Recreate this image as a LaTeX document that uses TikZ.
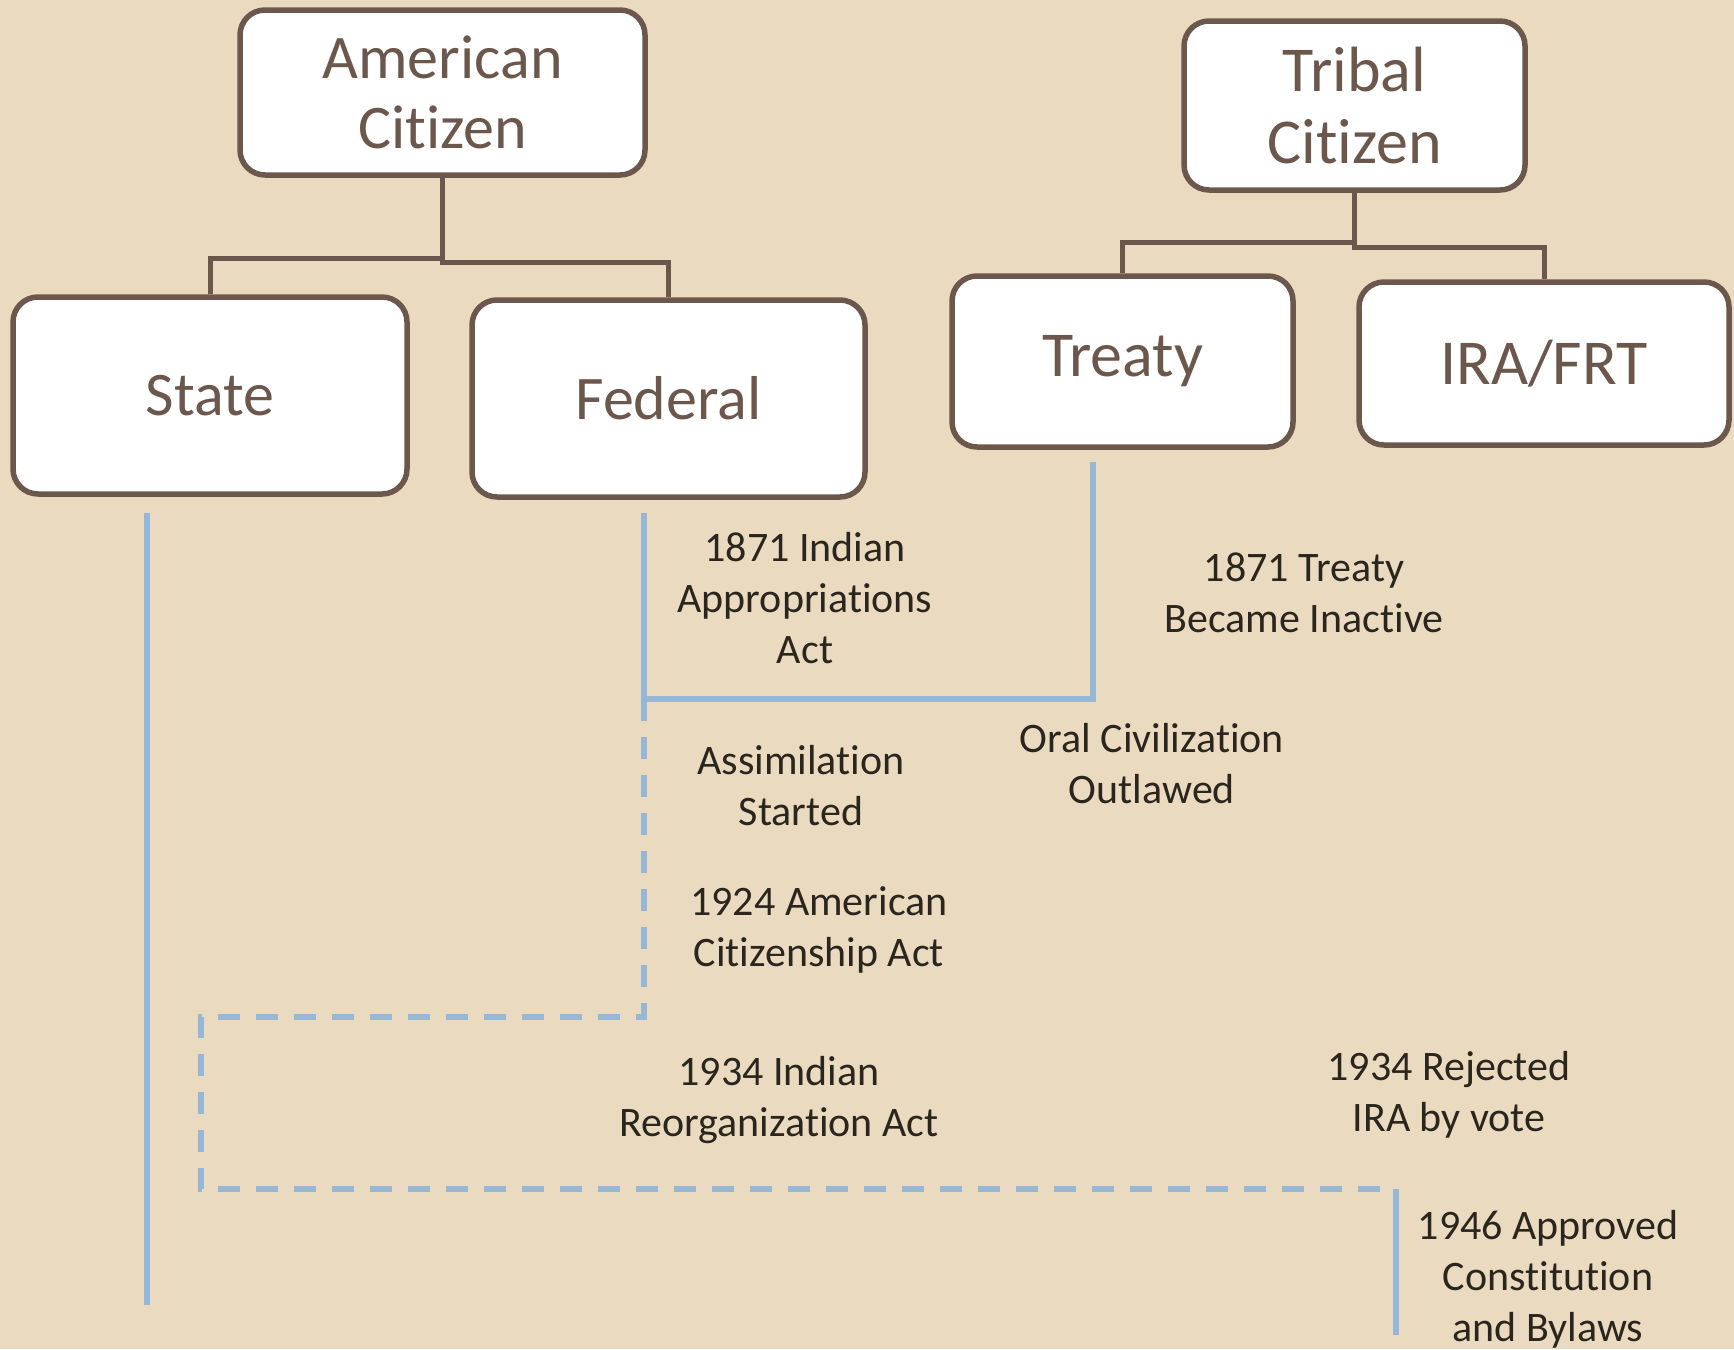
\documentclass[tikz,border=0pt]{standalone}
\usepackage{fontspec}
\setmainfont{Carlito}[Ligatures={NoCommon}]
\definecolor{bg}{RGB}{234,219,192}
\definecolor{brn}{RGB}{108,87,77}
\definecolor{blu}{RGB}{150,184,214}
\definecolor{ink}{RGB}{42,38,30}
\begin{document}
\begin{tikzpicture}[x=1pt,y=-1pt,
  boxnode/.style={draw=brn, line width=5.5pt, fill=white, rounded corners=25pt,
    inner sep=0pt, text=brn, align=center},
  leftfont/.style={font=\fontsize{62}{70}\selectfont},
  rightfont/.style={font=\fontsize{64}{72}\selectfont},
  lbl/.style={text=ink, align=center, inner sep=0pt, font=\fontsize{42}{51}\selectfont},
  tree/.style={draw=brn, line width=5pt},
  bline/.style={draw=blu, line width=5.5pt},
  bdash/.style={draw=blu, line width=5.5pt, dash pattern=on 22pt off 16pt}]
\useasboundingbox (0,0) rectangle (1734,1349);
\fill[bg] (0,0) rectangle (1734,1349);

% boxes
\node[boxnode, leftfont, minimum width=405pt, minimum height=165pt] (am) at (442.5,92.5) {American\\Citizen};
\node[boxnode, leftfont, minimum width=394pt, minimum height=197pt] (state) at (210,395.5) {State};
\node[boxnode, leftfont, minimum width=393pt, minimum height=197pt] (fed) at (668.5,398.5) {Federal};
\node[boxnode, rightfont, minimum width=341pt, minimum height=169pt] (tc) at (1354.5,105.5) {Tribal\\Citizen};
\node[boxnode, rightfont, minimum width=341pt, minimum height=171pt] (treaty) at (1122.5,361.5) {Treaty};
\node[boxnode, rightfont, minimum width=370pt, minimum height=163pt] (ira) at (1544,363.5) {IRA/FRT};

% tree connectors
\draw[tree] (am.south) -- ++(0,81) -| (state.north);
\draw[tree] (am.south) -- ++(0,85) -| (fed.north);
\draw[tree] (tc.south) -- ++(0,50) -| (treaty.north);
\draw[tree] (tc.south) -- ++(0,55) -| (ira.north);

% timeline coordinates
\coordinate (s1) at (147,513);
\coordinate (s2) at (147,1305);
\coordinate (f1) at (644,513);
\coordinate (j1) at (644,699);
\coordinate (t0) at (1093,462);
\coordinate (t1) at (1093,699);
\coordinate (d1) at (644,1017);
\coordinate (d2) at (201,1017);
\coordinate (d3) at (201,1189);
\coordinate (d4) at (1396,1189);
\coordinate (e1) at (1396,1335);

\draw[bline] (s1) -- (s2);
\draw[bline] (f1) -- (j1) -- (t1) -- (t0);
\draw[bdash] (j1) -- (d1) -- (d2) -- (d3) -- (d4);
\draw[bline] (d4) -- (e1);

% labels
\node[lbl] (l1) at (805,598) {1871 Indian\\Appropriations\\Act};
\node[lbl] (l2) at (1304,593) {1871 Treaty\\Became Inactive};
\node[lbl] (l3) at (801,786) {Assimilation\\Started};
\node[lbl] (l4) at (1152,764) {Oral Civilization\\Outlawed};
\node[lbl] (l5) at (819,930) {1924 American\\Citizenship Act};
\node[lbl] (l6) at (779,1100) {1934 Indian\\Reorganization Act};
\node[lbl] (l7) at (1449,1095) {1934 Rejected\\IRA by vote};
\node[lbl] (l8) at (1548,1279) {1946 Approved\\Constitution\\and Bylaws};
\end{tikzpicture}
\end{document}
